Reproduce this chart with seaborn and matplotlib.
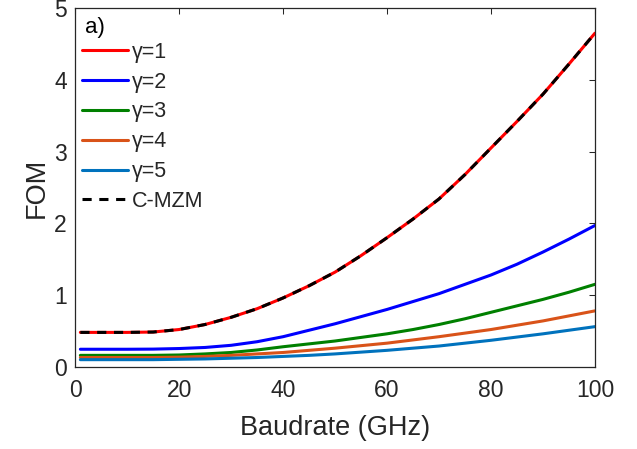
import pandas as pd
import matplotlib
matplotlib.use("Agg")
import matplotlib.pyplot as plt
import seaborn as sns

# Baudrate axis (GHz)
baudrate = [1, 5, 10, 15, 20, 25, 30, 35, 40, 45, 50, 55, 60, 65, 70, 75, 80, 85, 90, 95, 100]

# FOM per gamma
fom_g1 = [0.48, 0.48, 0.48, 0.485, 0.52, 0.59, 0.69, 0.81, 0.96, 1.13, 1.32, 1.55, 1.80, 2.06, 2.34, 2.68, 3.05, 3.42, 3.80, 4.22, 4.65]
fom_g2 = [0.245, 0.245, 0.245, 0.247, 0.255, 0.27, 0.30, 0.35, 0.42, 0.51, 0.60, 0.70, 0.80, 0.91, 1.02, 1.15, 1.28, 1.43, 1.60, 1.78, 1.97]
fom_g3 = [0.16, 0.16, 0.16, 0.16, 0.165, 0.18, 0.20, 0.235, 0.28, 0.32, 0.36, 0.41, 0.46, 0.52, 0.59, 0.67, 0.76, 0.85, 0.94, 1.04, 1.15]
fom_g4 = [0.13, 0.13, 0.13, 0.13, 0.135, 0.145, 0.16, 0.18, 0.20, 0.23, 0.26, 0.295, 0.33, 0.375, 0.42, 0.47, 0.52, 0.58, 0.64, 0.71, 0.78]
fom_g5 = [0.10, 0.10, 0.10, 0.10, 0.105, 0.11, 0.12, 0.13, 0.145, 0.16, 0.18, 0.205, 0.23, 0.26, 0.29, 0.33, 0.37, 0.415, 0.46, 0.51, 0.56]
fom_cmzm = list(fom_g1)  # lies on top of gamma=1

labels = ["γ=1", "γ=2", "γ=3", "γ=4", "γ=5"]
colors = ["#FF0000", "#0000FF", "#008000", "#D95319", "#0072BD"]

sns.set_style("white")
plt.rcParams["font.family"] = ["Liberation Sans", "DejaVu Sans"]

fig = plt.figure(figsize=(6.37, 4.49), dpi=100)
ax = fig.add_axes([0.118, 0.183, 0.816, 0.799])

for lab, col, vals in zip(labels, colors, [fom_g1, fom_g2, fom_g3, fom_g4, fom_g5]):
    sns.lineplot(x=baudrate, y=vals, color=col, linewidth=2.2, label=lab, ax=ax)
sns.lineplot(x=baudrate, y=fom_cmzm, color="black", linewidth=2.2, label="C-MZM", ax=ax)
ax.lines[-1].set_dashes((3, 2.5))

ax.set_xlim(0, 100)
ax.set_ylim(0, 5)
ax.set_xticks([0, 20, 40, 60, 80, 100])
ax.set_yticks([0, 1, 2, 3, 4, 5])
ax.set_xlabel("Baudrate (GHz)", fontsize=19.5, color="#262626", labelpad=9)
ax.set_ylabel("FOM", fontsize=19.5, color="#262626", labelpad=3)
ax.tick_params(direction="in", length=4, width=0.75, top=True, right=True,
               labelsize=16.5, colors="#262626")
ax.tick_params(axis="x", pad=9)
ax.tick_params(axis="y", pad=6)
for s in ax.spines.values():
    s.set_color("#262626")
    s.set_linewidth(0.9)

ax.text(0.019, 0.947, "a)", transform=ax.transAxes, fontsize=16,
        va="center", ha="left", color="black")

leg = ax.legend(loc="upper left", bbox_to_anchor=(0.013, 0.906), frameon=False,
                fontsize=15.5, borderpad=0, borderaxespad=0, handlelength=2.14,
                handletextpad=0.19, labelspacing=0.41)

fig.savefig("out.png", dpi=100)
